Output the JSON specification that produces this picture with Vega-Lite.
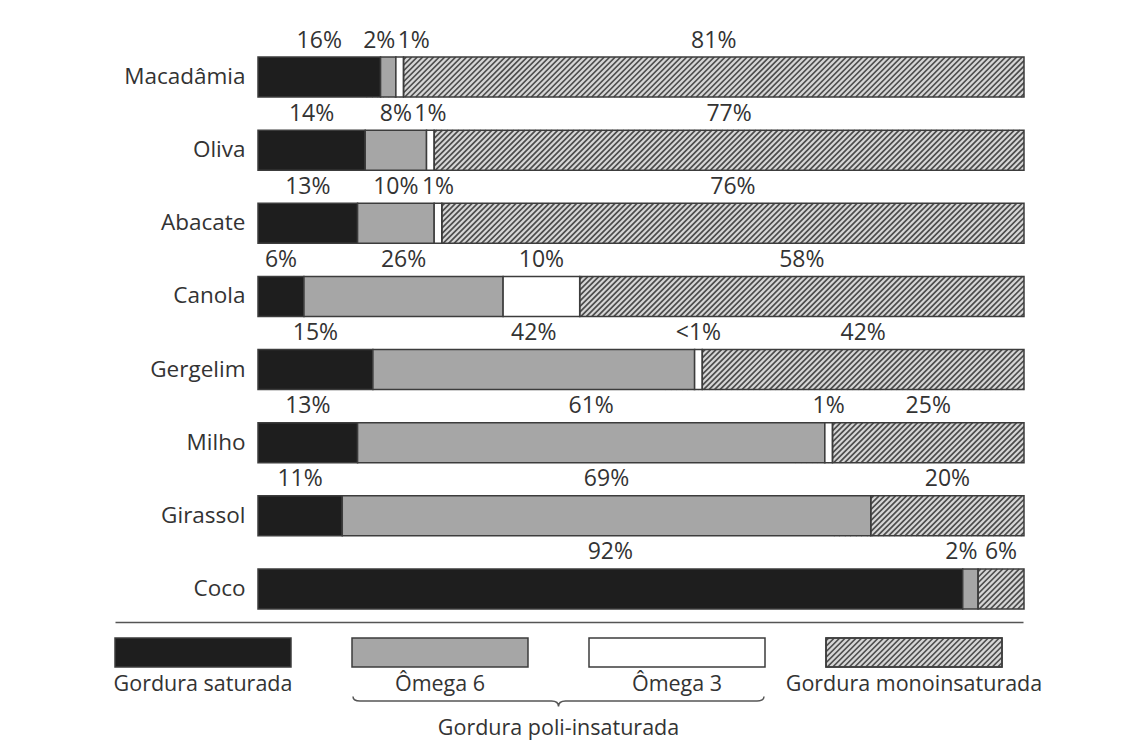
{
  "$schema": "https://vega.github.io/schema/vega-lite/v6.json",
  "background": "white",
  "padding": {"left": 113, "top": 29, "right": 10, "bottom": 12},
  "spacing": 12,
  "resolve": {"scale": {"fill": "independent"}},
  "config": {
    "view": {"stroke": null},
    "font": "Open Sans",
    "text": {"font": "Open Sans", "fontSize": 21.5, "fill": "#333333"}
  },
  "datasets": {
    "fats": [
      {"oil": "Macadâmia", "type": "Gordura saturada", "pct": 16, "label": "16%", "ord": 1},
      {"oil": "Macadâmia", "type": "Ômega 6", "pct": 2, "label": "2%", "ord": 2},
      {"oil": "Macadâmia", "type": "Ômega 3", "pct": 1, "label": "1%", "ord": 3},
      {"oil": "Macadâmia", "type": "Gordura monoinsaturada", "pct": 81, "label": "81%", "ord": 4},
      {"oil": "Oliva", "type": "Gordura saturada", "pct": 14, "label": "14%", "ord": 1},
      {"oil": "Oliva", "type": "Ômega 6", "pct": 8, "label": "8%", "ord": 2},
      {"oil": "Oliva", "type": "Ômega 3", "pct": 1, "label": "1%", "ord": 3},
      {"oil": "Oliva", "type": "Gordura monoinsaturada", "pct": 77, "label": "77%", "ord": 4},
      {"oil": "Abacate", "type": "Gordura saturada", "pct": 13, "label": "13%", "ord": 1},
      {"oil": "Abacate", "type": "Ômega 6", "pct": 10, "label": "10%", "ord": 2},
      {"oil": "Abacate", "type": "Ômega 3", "pct": 1, "label": "1%", "ord": 3},
      {"oil": "Abacate", "type": "Gordura monoinsaturada", "pct": 76, "label": "76%", "ord": 4},
      {"oil": "Canola", "type": "Gordura saturada", "pct": 6, "label": "6%", "ord": 1},
      {"oil": "Canola", "type": "Ômega 6", "pct": 26, "label": "26%", "ord": 2},
      {"oil": "Canola", "type": "Ômega 3", "pct": 10, "label": "10%", "ord": 3},
      {"oil": "Canola", "type": "Gordura monoinsaturada", "pct": 58, "label": "58%", "ord": 4},
      {"oil": "Gergelim", "type": "Gordura saturada", "pct": 15, "label": "15%", "ord": 1},
      {"oil": "Gergelim", "type": "Ômega 6", "pct": 42, "label": "42%", "ord": 2},
      {"oil": "Gergelim", "type": "Ômega 3", "pct": 1, "label": "<1%", "ord": 3},
      {"oil": "Gergelim", "type": "Gordura monoinsaturada", "pct": 42, "label": "42%", "ord": 4},
      {"oil": "Milho", "type": "Gordura saturada", "pct": 13, "label": "13%", "ord": 1},
      {"oil": "Milho", "type": "Ômega 6", "pct": 61, "label": "61%", "ord": 2},
      {"oil": "Milho", "type": "Ômega 3", "pct": 1, "label": "1%", "ord": 3},
      {"oil": "Milho", "type": "Gordura monoinsaturada", "pct": 25, "label": "25%", "ord": 4},
      {"oil": "Girassol", "type": "Gordura saturada", "pct": 11, "label": "11%", "ord": 1},
      {"oil": "Girassol", "type": "Ômega 6", "pct": 69, "label": "69%", "ord": 2},
      {"oil": "Girassol", "type": "Gordura monoinsaturada", "pct": 20, "label": "20%", "ord": 4},
      {"oil": "Coco", "type": "Gordura saturada", "pct": 92, "label": "92%", "ord": 1},
      {"oil": "Coco", "type": "Ômega 6", "pct": 2, "label": "2%", "ord": 2},
      {"oil": "Coco", "type": "Gordura monoinsaturada", "pct": 6, "label": "6%", "ord": 4}
    ],
    "legend": [
      {"item": "Gordura saturada"},
      {"item": "Ômega 6"},
      {"item": "Ômega 3"},
      {"item": "Gordura monoinsaturada"}
    ]
  },
  "vconcat": [
    {
      "width": 766,
      "height": 552,
      "data": {"name": "fats"},
      "transform": [
        {"stack": "pct", "groupby": ["oil"], "sort": [{"field": "ord", "order": "ascending"}], "as": ["s0", "s1"]}
      ],
      "encoding": {
        "y": {
          "field": "oil",
          "type": "nominal",
          "sort": ["Macadâmia", "Oliva", "Abacate", "Canola", "Gergelim", "Milho", "Girassol", "Coco"],
          "scale": {"paddingInner": 0.453, "paddingOuter": 0},
          "axis": {"title": null, "domain": false, "ticks": false, "labelFont": "Open Sans", "labelFontSize": 22.5, "labelColor": "#333333", "labelPadding": 13}
        }
      },
      "layer": [
        {
          "transform": [{"filter": "datum.type === 'Gordura monoinsaturada'"}],
          "mark": {"type": "bar", "fill": "#d6d6d6", "strokeWidth": 0},
          "encoding": {
            "x": {"field": "s0", "type": "quantitative", "scale": {"domain": [0, 100], "nice": false}, "axis": null},
            "x2": {"field": "s1"}
          }
        },
        {
          "transform": [{"filter": "datum.type === 'Gordura monoinsaturada'"}],
          "mark": {
            "type": "point",
            "shape": "M-37.25 20L2.75 -20m-34.5 40l40-40m-34.5 40l40-40m-34.5 40l40-40m-34.5 40l40-40m-34.5 40l40-40m-34.5 40l40-40m-34.5 40l40-40m-34.5 40l40-40m-34.5 40l40-40m-34.5 40l40-40m-34.5 40l40-40m-34.5 40l40-40m-34.5 40l40-40m-34.5 40l40-40m-34.5 40l40-40m-34.5 40l40-40m-34.5 40l40-40m-34.5 40l40-40m-34.5 40l40-40m-34.5 40l40-40m-34.5 40l40-40m-34.5 40l40-40m-34.5 40l40-40m-34.5 40l40-40m-34.5 40l40-40m-34.5 40l40-40m-34.5 40l40-40m-34.5 40l40-40m-34.5 40l40-40m-34.5 40l40-40m-34.5 40l40-40m-34.5 40l40-40m-34.5 40l40-40m-34.5 40l40-40m-34.5 40l40-40m-34.5 40l40-40m-34.5 40l40-40m-34.5 40l40-40m-34.5 40l40-40m-34.5 40l40-40m-34.5 40l40-40m-34.5 40l40-40m-34.5 40l40-40m-34.5 40l40-40m-34.5 40l40-40m-34.5 40l40-40m-34.5 40l40-40m-34.5 40l40-40m-34.5 40l40-40m-34.5 40l40-40m-34.5 40l40-40m-34.5 40l40-40m-34.5 40l40-40m-34.5 40l40-40m-34.5 40l40-40m-34.5 40l40-40m-34.5 40l40-40m-34.5 40l40-40m-34.5 40l40-40m-34.5 40l40-40m-34.5 40l40-40m-34.5 40l40-40m-34.5 40l40-40m-34.5 40l40-40m-34.5 40l40-40m-34.5 40l40-40m-34.5 40l40-40m-34.5 40l40-40m-34.5 40l40-40m-34.5 40l40-40m-34.5 40l40-40m-34.5 40l40-40m-34.5 40l40-40m-34.5 40l40-40m-34.5 40l40-40m-34.5 40l40-40m-34.5 40l40-40m-34.5 40l40-40m-34.5 40l40-40m-34.5 40l40-40m-34.5 40l40-40m-34.5 40l40-40m-34.5 40l40-40m-34.5 40l40-40m-34.5 40l40-40m-34.5 40l40-40m-34.5 40l40-40m-34.5 40l40-40m-34.5 40l40-40m-34.5 40l40-40m-34.5 40l40-40m-34.5 40l40-40m-34.5 40l40-40m-34.5 40l40-40m-34.5 40l40-40m-34.5 40l40-40m-34.5 40l40-40m-34.5 40l40-40m-34.5 40l40-40m-34.5 40l40-40m-34.5 40l40-40m-34.5 40l40-40m-34.5 40l40-40m-34.5 40l40-40m-34.5 40l40-40m-34.5 40l40-40m-34.5 40l40-40m-34.5 40l40-40m-34.5 40l40-40m-34.5 40l40-40m-34.5 40l40-40m-34.5 40l40-40m-34.5 40l40-40m-34.5 40l40-40m-34.5 40l40-40m-34.5 40l40-40m-34.5 40l40-40m-34.5 40l40-40m-34.5 40l40-40m-34.5 40l40-40m-34.5 40l40-40m-34.5 40l40-40m-34.5 40l40-40",
            "size": 4,
            "filled": false,
            "stroke": "#4d4d4d",
            "strokeWidth": 1.7,
            "opacity": 1,
            "clip": true
          },
          "encoding": {
            "x": {"field": "s0", "type": "quantitative"}
          }
        },
        {
          "transform": [{"filter": "datum.type !== 'Gordura monoinsaturada'"}],
          "mark": {"type": "bar", "stroke": "#3c3c3c", "strokeWidth": 1.5},
          "encoding": {
            "x": {"field": "s0", "type": "quantitative"},
            "x2": {"field": "s1"},
            "fill": {
              "field": "type",
              "type": "nominal",
              "scale": {"domain": ["Gordura saturada", "Ômega 6", "Ômega 3", "Gordura monoinsaturada"], "range": ["#1e1e1e", "#a6a6a6", "#ffffff", "#d6d6d6"]},
              "legend": null
            }
          }
        },
        {
          "transform": [{"filter": "datum.type === 'Gordura monoinsaturada'"}],
          "mark": {"type": "bar", "fillOpacity": 0, "stroke": "#3c3c3c", "strokeWidth": 1.5},
          "encoding": {
            "x": {"field": "s0", "type": "quantitative"},
            "x2": {"field": "s1"}
          }
        },
        {
          "mark": {"type": "text", "baseline": "alphabetic", "dy": -29.5, "fontSize": 23},
          "encoding": {
            "x": {"field": "pct", "type": "quantitative", "stack": "zero", "bandPosition": 0.5},
            "order": {"field": "ord"},
            "text": {
              "condition": {
                "test": "!(((datum.oil === 'Macadâmia' || datum.oil === 'Coco') && datum.type === 'Ômega 6') || (datum.oil === 'Macadâmia' && datum.type === 'Ômega 3'))",
                "field": "label"
              },
              "value": ""
            }
          }
        },
        {
          "mark": {"type": "text", "baseline": "alphabetic", "dy": -29.5, "dx": -9, "fontSize": 23},
          "encoding": {
            "x": {"field": "pct", "type": "quantitative", "stack": "zero", "bandPosition": 0.5},
            "order": {"field": "ord"},
            "text": {
              "condition": {"test": "(datum.oil === 'Macadâmia' || datum.oil === 'Coco') && datum.type === 'Ômega 6'", "field": "label"},
              "value": ""
            }
          }
        },
        {
          "mark": {"type": "text", "baseline": "alphabetic", "dy": -29.5, "dx": 14, "fontSize": 23},
          "encoding": {
            "x": {"field": "pct", "type": "quantitative", "stack": "zero", "bandPosition": 0.5},
            "order": {"field": "ord"},
            "text": {
              "condition": {"test": "datum.oil === 'Macadâmia' && datum.type === 'Ômega 3'", "field": "label"},
              "value": ""
            }
          }
        }
      ]
    },
    {
      "width": 766,
      "height": 29,
      "data": {"name": "legend"},
      "encoding": {
        "x": {
          "field": "item",
          "type": "nominal",
          "sort": null,
          "scale": {"range": [-143, 765], "paddingInner": 0.2574, "paddingOuter": 0.0443, "align": 0},
          "axis": {"orient": "top", "offset": 16, "domain": true, "domainColor": "#555555", "domainWidth": 1.5, "ticks": false, "labels": false, "title": null, "grid": false}
        }
      },
      "layer": [
        {
          "mark": {"type": "bar", "stroke": "#3c3c3c", "strokeWidth": 1.5},
          "encoding": {
            "fill": {
              "field": "item",
              "type": "nominal",
              "scale": {"domain": ["Gordura saturada", "Ômega 6", "Ômega 3", "Gordura monoinsaturada"], "range": ["#1e1e1e", "#a6a6a6", "#ffffff", "#d6d6d6"]},
              "legend": null
            }
          }
        },
        {
          "transform": [{"filter": "datum.item === 'Gordura monoinsaturada'"}],
          "mark": {
            "type": "point",
            "shape": "M-88 -11.75L-85.25 -14.5M-88 -6.25L-79.75 -14.5M-88 -0.75L-74.25 -14.5M-88 4.75L-68.75 -14.5M-88 10.25L-63.25 -14.5M-86.75 14.5l29-29m-23.5 29l29-29m-23.5 29l29-29m-23.5 29l29-29m-23.5 29l29-29m-23.5 29l29-29m-23.5 29l29-29m-23.5 29l29-29m-23.5 29l29-29m-23.5 29l29-29m-23.5 29l29-29m-23.5 29l29-29m-23.5 29l29-29m-23.5 29l29-29m-23.5 29l29-29m-23.5 29l29-29m-23.5 29l29-29m-23.5 29l29-29m-23.5 29l29-29m-23.5 29l29-29m-23.5 29l29-29m-23.5 29l29-29m-23.5 29l29-29m-23.5 29l29-29m-23.5 29l29-29m-23.5 29l29-29m-23.5 29l29-29M61.75 14.5L88 -11.75M67.25 14.5L88 -6.25M72.75 14.5L88 -0.75M78.25 14.5L88 4.75M83.75 14.5L88 10.25",
            "size": 4,
            "filled": false,
            "stroke": "#4d4d4d",
            "strokeWidth": 1.7,
            "opacity": 1
          }
        },
        {
          "transform": [{"filter": "datum.item === 'Gordura monoinsaturada'"}],
          "mark": {"type": "bar", "fillOpacity": 0, "stroke": "#3c3c3c", "strokeWidth": 1.5}
        },
        {
          "mark": {"type": "text", "baseline": "alphabetic", "dy": 38.5},
          "encoding": {"text": {"field": "item"}}
        },
        {
          "transform": [{"filter": "datum.item === 'Ômega 6'"}],
          "mark": {
            "type": "point",
            "shape": "M-87 44Q-87 48.5 -80 48.5L111.5 48.5Q118.5 48.5 118.5 54Q118.5 48.5 125.5 48.5L317 48.5Q324 48.5 324 44",
            "size": 4,
            "filled": false,
            "stroke": "#555555",
            "strokeWidth": 1.5,
            "opacity": 1
          }
        },
        {
          "transform": [{"filter": "datum.item === 'Ômega 6'"}],
          "mark": {"type": "text", "baseline": "alphabetic", "dx": 118.5, "dy": 82.5, "text": "Gordura poli-insaturada"}
        }
      ]
    }
  ]
}
